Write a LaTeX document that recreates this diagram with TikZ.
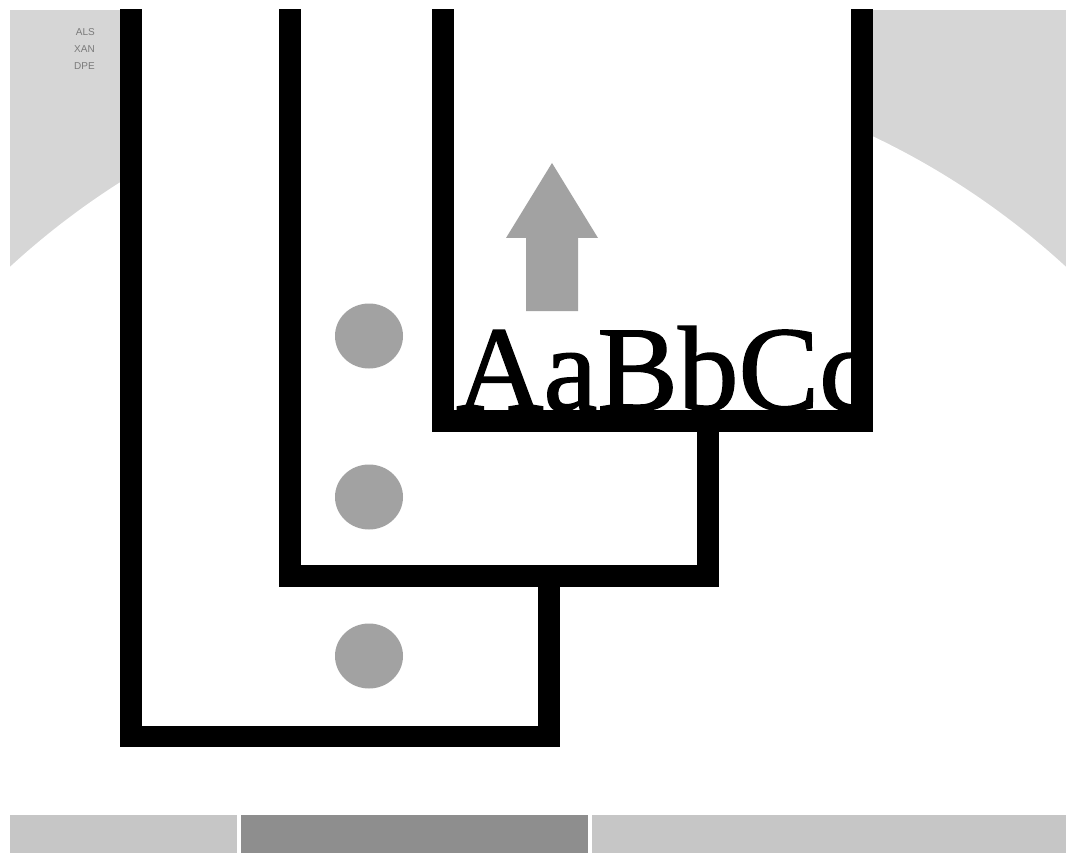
\documentclass[tikz,border=0pt]{standalone}
\usepackage{fontspec}
\setmainfont{Liberation Serif}
\newfontfamily\samplefont[FakeBold=1.2]{Liberation Serif}
\newfontfamily\labelfont{Liberation Sans}
\definecolor{bggray}{HTML}{D6D6D6}
\definecolor{dotgray}{HTML}{A2A2A2}
\definecolor{barlight}{HTML}{C6C6C6}
\definecolor{bardark}{HTML}{8E8E8E}
\definecolor{tinytext}{HTML}{7A7A7A}
\tikzset{
  frameline/.style={line width=21.5pt, line join=miter, draw=black},
  framefill/.style={fill=white},
  dot/.style={fill=dotgray},
}
\begin{document}
\begin{tikzpicture}[x=1pt,y=-1pt]
\useasboundingbox (0,0) rectangle (1066,853);
\begin{scope}
  \clip (10,10) rectangle (1066,853);
  % backdrop and the large white disc
  \fill[bggray] (10,10) rectangle (1066,853);
  \fill[white] (538,841) circle [radius=780];
  % outer frame
  \fill[framefill] (131,0) rectangle (549,736.5);
  \draw[frameline] (131,0) -- (131,736.5) -- (549,736.5) -- (549,0);
  % middle frame
  \fill[framefill] (290,0) rectangle (708,576);
  \draw[frameline] (290,0) -- (290,576) -- (708,576) -- (708,0);
  % inner frame with the type sample
  \fill[framefill] (443,0) rectangle (862,421);
  \begin{scope}
    \clip (453,0) rectangle (852,411);
    \node[anchor=base west, inner sep=0pt,
          font=\samplefont\fontsize{121}{121}\selectfont] (sample) at (456,410) {AaBbCc};
  \end{scope}
  \draw[frameline] (443,0) -- (443,421) -- (862,421) -- (862,0);
  % markers
  \fill[dot] (369,336) ellipse [x radius=34, y radius=32.5];
  \fill[dot] (369,497) ellipse [x radius=34, y radius=32.5];
  \fill[dot] (369,656) ellipse [x radius=34, y radius=32.5];
  % upward arrow
  \fill[dotgray] (552,163) -- (598,238) -- (578,238) -- (578,311) -- (526,311) -- (526,238) -- (506,238) -- cycle;
  % bottom bar
  \fill[barlight] (10,815) rectangle (237,853);
  \fill[bardark] (241,815) rectangle (588,853);
  \fill[barlight] (592,815) rectangle (1066,853);
  % small label
  \node[anchor=north east, align=right, inner sep=0pt, text=tinytext,
        font=\labelfont\fontsize{10}{17}\selectfont] (legend) at (95,28) {ALS\\XAN\\DPE};
\end{scope}
\end{tikzpicture}
\end{document}
